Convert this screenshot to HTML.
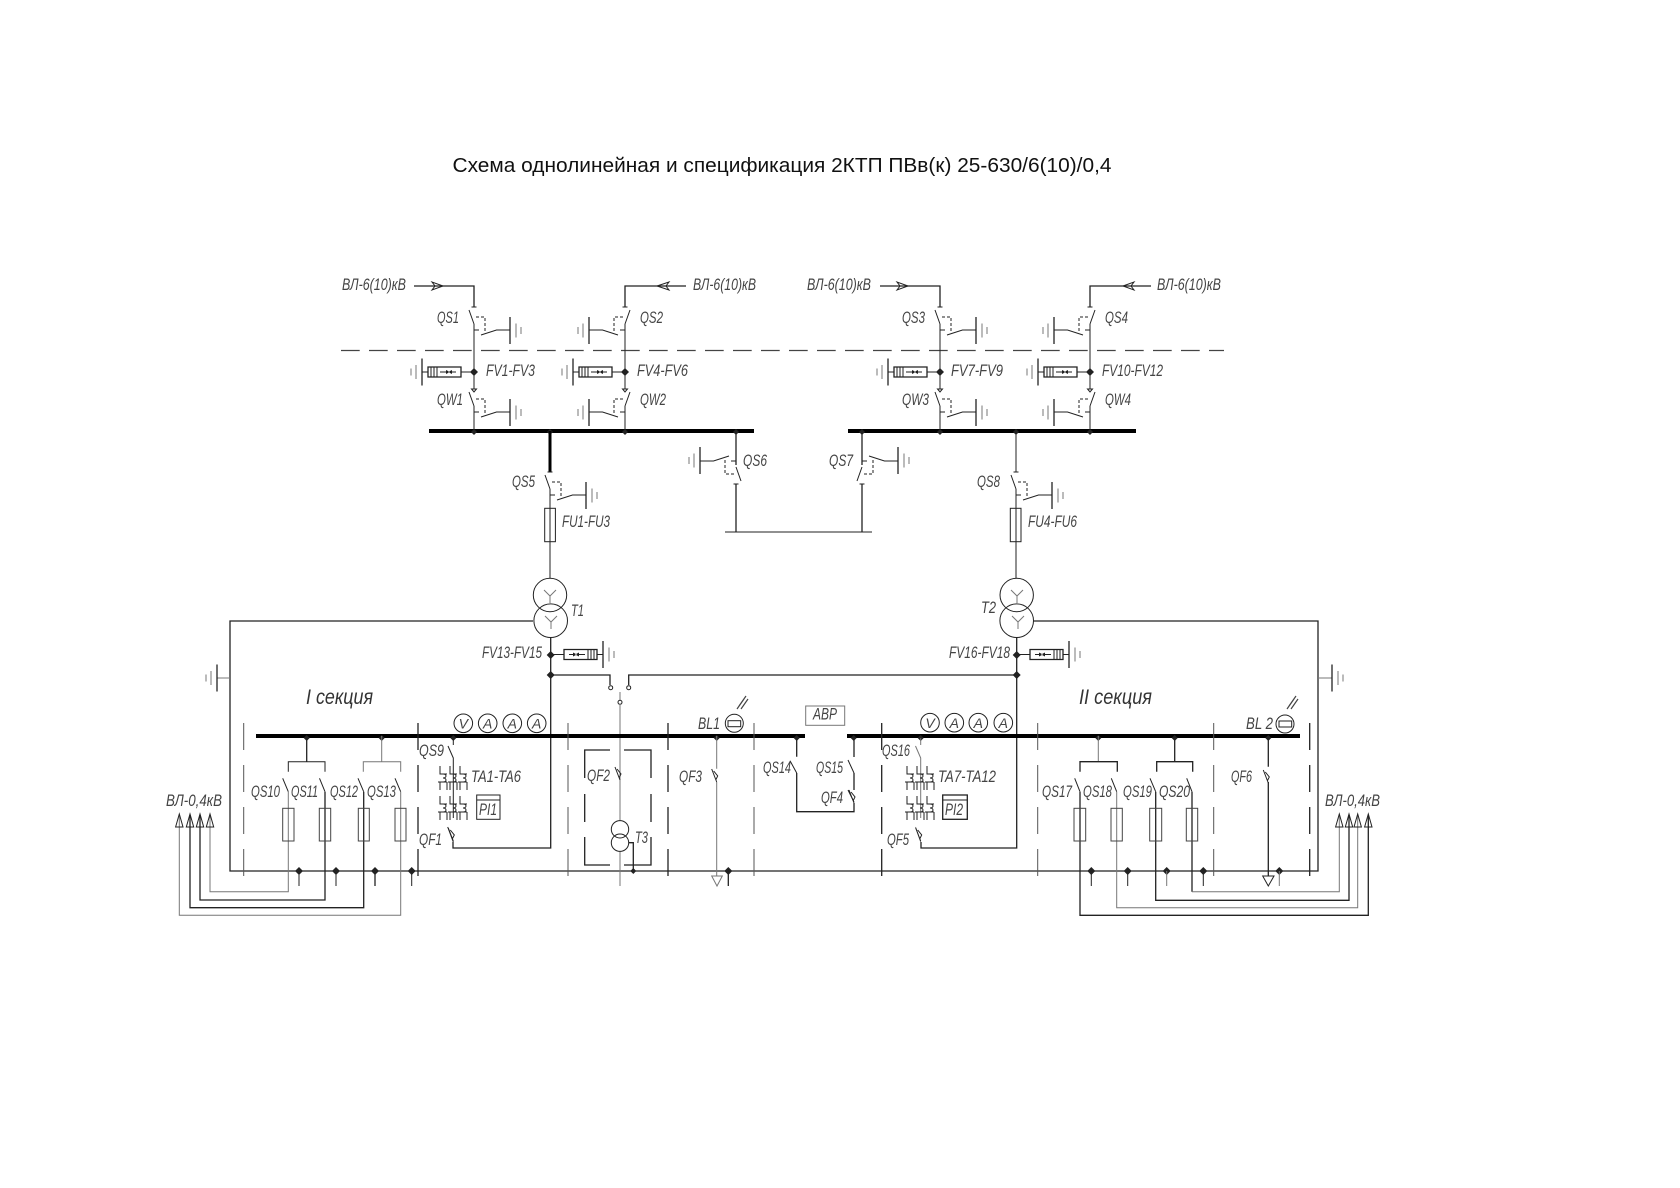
<!DOCTYPE html>
<html><head><meta charset="utf-8"><title>Схема однолинейная</title>
<style>
html,body{margin:0;padding:0;background:#fff}
svg{display:block}
.l{font-family:"Liberation Sans","DejaVu Sans",sans-serif;font-style:italic;font-size:17px;fill:#444}
.t{font-family:"Liberation Sans","DejaVu Sans",sans-serif;font-size:20.5px;fill:#111}
.s{font-family:"Liberation Sans","DejaVu Sans",sans-serif;font-style:italic;font-size:21px;fill:#333}
.m{font-family:"Liberation Sans","DejaVu Sans",sans-serif;font-style:italic;font-size:14px;fill:#444;text-anchor:middle}
.w{fill:none;stroke:#222;stroke-width:1}
.g{fill:none;stroke:#777;stroke-width:1}
.k{fill:none;stroke:#222;stroke-width:1.3}
.f{fill:none;stroke:#444;stroke-width:1}
.b{fill:none;stroke:#000;stroke-width:4}
.d{fill:none;stroke:#555;stroke-width:1;stroke-dasharray:27 15}
.dk{fill:none;stroke:#222;stroke-width:1.3;stroke-dasharray:27 15}
.n{fill:#222}
</style></head><body>
<svg xmlns="http://www.w3.org/2000/svg" width="1680" height="1188" viewBox="0 0 1680 1188">
<defs>
<g id="gnd"><path class="k" d="M0,-13.5V13.5"/><path class="g" d="M6,-7V7M11,-3.5V3.5"/></g>
<g id="qs">
<path class="w" d="M-2.5,0H2.5M-5,3L0,17M0,23H5M7,28L22.5,23H36"/>
<path class="w" d="M2,10H11V25" stroke-dasharray="3 2"/>
<use href="#gnd" x="36" y="23.5"/>
</g>
<g id="fv">
<path class="k" d="M-46,-5H-13V5H-46Z"/>
<path class="w" d="M-43,-5V5M-40,-5V5M-37,-5V5M-13,0H0M-46,0H-52M-34,0H-28M-18,0H-22"/>
<path class="n" d="M-28,-2L-24,0L-28,2ZM-22,-2L-26,0L-22,2Z"/>
<use href="#gnd" transform="translate(-52,0) scale(-1,1)"/>
</g>
<path id="node" class="n" d="M0,-3L3,0L0,3L-3,0Z"/>
<path id="bnode" class="n" d="M0,-4L4,0L0,4L-4,0Z"/>
<path id="tri" class="w" d="M-2.5,0H2.5L0,3Z"/>
<g id="ta">
<path class="w" d="M2,0V8H9M5,8C9,8 9,12 5,12C9,12 9,16 5,16M0,16H9M2,16V24M9,16V24"/>
</g>
<g id="tas">
<use href="#ta" x="0" y="0"/><use href="#ta" x="10" y="0"/><use href="#ta" x="20" y="0"/>
<use href="#ta" x="0" y="30"/><use href="#ta" x="10" y="30"/><use href="#ta" x="20" y="30"/>
</g>
<path id="qf" class="w" d="M-5,0L0,13M-3,2L1,7L-1,11"/>
<path id="bl" fill="none" stroke="#444" stroke-width="1.2" d="M0,0L7,-10M4,0L11,-10M2,-3L9,-13"/>
<g id="ar"><path class="w" d="M0,0L-3.7,13H3.7Z"/></g>
</defs>

<text class="t" x="452.5" y="172" textLength="659" lengthAdjust="spacingAndGlyphs">Схема однолинейная и спецификация 2КТП ПВв(к) 25-630/6(10)/0,4</text>

<!-- top dashed -->
<path fill="none" stroke="#444" stroke-width="1.2" stroke-dasharray="18.7 9.3" d="M341,350.5H1224"/>

<!-- incoming lines -->
<path class="k" d="M414,286H474V307M686,286H625V307M880,286H940V307M1151,286H1090V307"/>
<path class="w" d="M443,286L432,282L435,286L432,290L443,286Z"/>
<path class="w" d="M657,286L669,282L666,286L669,290L657,286Z"/>
<path class="w" d="M908,286L897,282L900,286L897,290L908,286Z"/>
<path class="w" d="M1123,286L1134,282L1131,286L1134,290L1123,286Z"/>

<!-- verticals -->
<path class="w" d="M474,324V389M474,406V431M625,324V389M625,406V431M940,324V389M940,406V431M1090,324V389M1090,406V431"/>
<use href="#qs" transform="translate(474,307)"/>
<use href="#qs" transform="translate(625,307) scale(-1,1)"/>
<use href="#qs" transform="translate(940,307)"/>
<use href="#qs" transform="translate(1090,307) scale(-1,1)"/>
<use href="#qs" transform="translate(474,389)"/>
<use href="#qs" transform="translate(625,389) scale(-1,1)"/>
<use href="#qs" transform="translate(940,389)"/>
<use href="#qs" transform="translate(1090,389) scale(-1,1)"/>
<use href="#tri" x="474" y="389"/><use href="#tri" x="625" y="389"/><use href="#tri" x="940" y="389"/><use href="#tri" x="1090" y="389"/>
<use href="#fv" transform="translate(474,372)"/>
<use href="#fv" transform="translate(625,372)"/>
<use href="#fv" transform="translate(940,372)"/>
<use href="#fv" transform="translate(1090,372)"/>
<use href="#bnode" x="474" y="372"/><use href="#bnode" x="625" y="372"/><use href="#bnode" x="940" y="372"/><use href="#bnode" x="1090" y="372"/>

<!-- HV buses -->
<path class="b" d="M429,431H754M848,431H1136"/>
<use href="#node" x="474" y="432"/><use href="#node" x="550" y="432"/><use href="#node" x="625" y="432"/><use href="#node" x="736" y="432"/>
<use href="#node" x="862" y="432"/><use href="#node" x="940" y="432"/><use href="#node" x="1016" y="432"/><use href="#node" x="1090" y="432"/>

<!-- QS5 QS8 FU -->
<path fill="none" stroke="#000" stroke-width="3" d="M550,431V472"/>
<path class="w" d="M1016,431V472M550,489V578M1016,489V578"/>
<use href="#qs" transform="translate(550,472)"/>
<use href="#qs" transform="translate(1016,472)"/>
<rect class="w" x="544.7" y="508.3" width="10.7" height="33.4"/>
<rect class="w" x="1010.3" y="508.3" width="10.7" height="33.4"/>

<!-- QS6 QS7 -->
<path class="k" d="M736,431V465M736,484V532M862,431V465M862,484V532"/>
<path class="w" d="M725,532H872"/>
<use href="#qs" transform="translate(736,484) scale(-1,-1)"/>
<use href="#qs" transform="translate(862,484) scale(1,-1)"/>

<!-- transformers -->
<circle class="w" cx="550" cy="595" r="16.7"/><circle class="w" cx="550.7" cy="620.7" r="16.8"/>
<circle class="w" cx="1016.7" cy="595" r="16.7"/><circle class="w" cx="1016.7" cy="620.7" r="16.8"/>
<path class="g" d="M544,590L550,596L556,590M550,596V603M545,616L551,622L557,616M551,622V629M1011,590L1017,596L1023,590M1017,596V603M1012,616L1018,622L1024,616M1018,622V629"/>

<!-- frame -->
<path class="k" d="M533,621H230V871H1318V621H1033"/>
<path class="g" d="M230,678H217M1318,678H1332"/>
<use href="#gnd" transform="translate(217,678) scale(-1,1)"/>
<use href="#gnd" x="1332" y="678"/>

<!-- T1/T2 down -->
<path class="k" d="M550.7,637.5V848H453V842M1016.7,637.5V848H921V842"/>
<use href="#bnode" x="550.7" y="655"/><use href="#bnode" x="550.7" y="675"/>
<use href="#bnode" x="1016.7" y="655"/><use href="#bnode" x="1016.7" y="675"/>
<use href="#fv" transform="translate(551,654.5) scale(-1,1)"/>
<use href="#fv" transform="translate(1017,654.5) scale(-1,1)"/>

<!-- ATS switch -->
<path class="k" d="M551,675H610V685M628.7,685V675H1017"/>
<circle class="w" cx="610.7" cy="687.7" r="2"/><circle class="w" cx="628.7" cy="687.7" r="2"/><circle class="w" cx="620" cy="702.3" r="2"/>
<path class="g" d="M620,692V700M620,704V820.5M620,851.5V886"/>

<!-- LV buses -->
<path class="b" d="M256,736H805M847,736H1300"/>

<!-- vertical section dashes -->
<path class="d" d="M243.7,723V879M568,723V879M754,723V879M1037.7,723V879M1213.7,723V879"/>
<path class="dk" d="M418,723V879M668,723V879M881.7,723V879M1309.7,723V879"/>

<!-- T3 box -->
<path class="k" d="M610,750H584.7V778M584.7,794V822M584.7,837V865H610M624,750H651V778M651,794V822M651,837V865H624"/>
<circle class="w" cx="620" cy="829.3" r="8.7"/><circle class="w" cx="620" cy="842.7" r="8.7"/>
<path class="k" d="M628.7,842.7H633.3V871"/>
<use href="#node" x="633.3" y="871"/>
<use href="#qf" x="620" y="767"/>

<!-- QS9/QF1 -->
<use href="#node" x="453.3" y="738"/>
<path class="w" d="M453.3,738V745M448,746L453.3,758V818M447.7,827L453.3,842"/>
<use href="#tas" x="438" y="766"/>
<use href="#qf" x="453.3" y="828"/>
<rect class="w" x="476.7" y="795" width="23.3" height="24.3"/>
<path class="w" d="M476.7,800H500"/>
<!-- QS16/QF5 -->
<use href="#node" x="920.7" y="738"/>
<path class="g" d="M920.7,738V745M915.5,746L920.7,758V818M915.5,827L920.7,842"/>
<use href="#tas" x="905" y="766"/>
<use href="#qf" x="920.7" y="828"/>
<rect class="k" x="942.7" y="795" width="24.6" height="24.3"/>
<path class="w" d="M942.7,800H967.3"/>

<!-- meters -->
<circle class="w" cx="463.3" cy="723.3" r="9.3"/><circle class="w" cx="487.7" cy="723.3" r="9.3"/><circle class="w" cx="512.3" cy="723.3" r="9.3"/><circle class="w" cx="536.7" cy="723.3" r="9.3"/>
<circle class="w" cx="930" cy="722.7" r="9.3"/><circle class="w" cx="954.3" cy="722.7" r="9.3"/><circle class="w" cx="978.3" cy="722.7" r="9.3"/><circle class="w" cx="1003.3" cy="722.7" r="9.3"/>
<text class="m" x="463.3" y="728.5">V</text><text class="m" x="487.7" y="728.5">A</text><text class="m" x="512.3" y="728.5">A</text><text class="m" x="536.7" y="728.5">A</text>
<text class="m" x="930" y="728">V</text><text class="m" x="954.3" y="728">A</text><text class="m" x="978.3" y="728">A</text><text class="m" x="1003.3" y="728">A</text>

<!-- left feeders -->
<use href="#node" x="306.7" y="738"/><use href="#node" x="381.7" y="738"/>
<path class="k" d="M306.7,736V761.7"/><path class="g" d="M381.7,736V761.7"/>
<path class="w" d="M288.3,771.7V761.7H325V771.7"/><path class="g" d="M363.3,771.7V761.7H400.7V771.7"/>
<path class="w" d="M282.7,778.3L288.3,791.7M319.5,778.3L325,791.7M358,778.3L363.7,791.7M395,778.3L400.7,791.7"/>
<path class="g" d="M288.3,791.7V891.7H210V815M400.7,791.7V915.3H179.3V815"/>
<path class="k" d="M325,791.7V900H200V815M363.7,791.7V907.7H190V815"/>
<rect class="f" x="282.7" y="808.3" width="11.3" height="32.7"/><rect class="f" x="319.3" y="808.3" width="11.4" height="32.7"/><rect class="f" x="358.3" y="808.3" width="11" height="32.7"/><rect class="f" x="395" y="808.3" width="11" height="32.7"/>
<use href="#ar" x="179.3" y="814"/><use href="#ar" x="190" y="814"/><use href="#ar" x="200" y="814"/><use href="#ar" x="210" y="814"/>
<use href="#bnode" x="299" y="871"/><use href="#bnode" x="336" y="871"/><use href="#bnode" x="375" y="871"/><use href="#bnode" x="411.7" y="871"/>
<path class="w" d="M299,871V886M336,871V886M411.7,871V886"/><path class="k" d="M375,871V886"/>

<!-- QF3 / BL1 -->
<use href="#node" x="716.7" y="738"/>
<path class="g" d="M716.7,736V768.7M716.7,782V876"/>
<use href="#qf" x="716.7" y="769"/>
<path class="g" d="M711.7,876H722.3L717,886Z"/>
<use href="#bnode" x="728.3" y="871"/><path class="k" d="M728.3,871V886"/>
<circle class="w" cx="734.3" cy="723.3" r="9"/><rect class="w" x="728" y="720.7" width="12.7" height="6"/>
<use href="#bl" x="737" y="709"/>

<!-- QS14 QS15 QF4 -->
<use href="#node" x="796.7" y="738"/><use href="#node" x="853.7" y="738"/>
<path class="k" d="M796.7,736V756.7M796.7,773V811.7H854V803M854,773V790M854,736V757"/>
<path class="w" d="M790,760.7L796.7,773M848,760L854,773M848,790L854,802"/>
<use href="#qf" x="854" y="790"/>
<rect class="g" x="805.7" y="706" width="39" height="19.3"/>

<!-- right feeders -->
<use href="#node" x="1098.3" y="738"/><use href="#node" x="1174.7" y="738"/>
<path class="g" d="M1098.3,736V761.7"/><path class="k" d="M1174.7,736V761.7"/>
<path class="k" d="M1080,771.7V761.7H1117.3V771.7M1156.7,771.7V761.7H1192.7V771.7"/>
<path class="w" d="M1074.7,778.3L1080,791.7M1111.3,778.3L1116.7,791.7M1150,778.3L1155.7,791.7M1186.7,778.3L1192,791.7"/>
<path class="k" d="M1080,791.7V915.3H1368.3V815M1155.7,791.7V900.3H1349V815M1192,791.7V891.7"/>
<path class="g" d="M1192,891.7H1339.3V815M1116.7,791.7V907.7H1357.7V815"/>
<rect class="f" x="1074" y="808.3" width="11.7" height="32.7"/><rect class="f" x="1111" y="808.3" width="11.3" height="32.7"/><rect class="f" x="1149.7" y="808.3" width="12" height="32.7"/><rect class="f" x="1186.3" y="808.3" width="11.4" height="32.7"/>
<use href="#ar" x="1339.3" y="814"/><use href="#ar" x="1349" y="814"/><use href="#ar" x="1357.7" y="814"/><use href="#ar" x="1368.3" y="814"/>
<use href="#bnode" x="1091.3" y="871"/><use href="#bnode" x="1127.7" y="871"/><use href="#bnode" x="1166.7" y="871"/><use href="#bnode" x="1203.3" y="871"/><use href="#bnode" x="1279.3" y="871"/>
<path class="w" d="M1091.3,871V886M1127.7,871V886M1203.3,871V886"/><path class="g" d="M1166.7,871V886M1279.3,871V886"/>

<!-- QF6 / BL2 -->
<use href="#node" x="1268.3" y="738"/>
<path class="k" d="M1268.3,736V766.7M1268.3,782V876"/>
<use href="#qf" x="1268.3" y="770"/>
<path class="w" d="M1262.7,876H1274L1268.3,886Z"/>
<circle class="w" cx="1285" cy="724" r="9"/><rect class="w" x="1279" y="721" width="12.7" height="6"/>
<use href="#bl" x="1287" y="709"/>

<!-- labels -->
<text class="l" x="342" y="290" textLength="64" lengthAdjust="spacingAndGlyphs">ВЛ-6(10)кВ</text>
<text class="l" x="693" y="290" textLength="63" lengthAdjust="spacingAndGlyphs">ВЛ-6(10)кВ</text>
<text class="l" x="807" y="290" textLength="64" lengthAdjust="spacingAndGlyphs">ВЛ-6(10)кВ</text>
<text class="l" x="1157" y="290" textLength="64" lengthAdjust="spacingAndGlyphs">ВЛ-6(10)кВ</text>
<text class="l" x="437" y="323" textLength="22" lengthAdjust="spacingAndGlyphs">QS1</text>
<text class="l" x="640" y="323" textLength="23" lengthAdjust="spacingAndGlyphs">QS2</text>
<text class="l" x="902" y="323" textLength="23" lengthAdjust="spacingAndGlyphs">QS3</text>
<text class="l" x="1105" y="323" textLength="23" lengthAdjust="spacingAndGlyphs">QS4</text>
<text class="l" x="486" y="376" textLength="49" lengthAdjust="spacingAndGlyphs">FV1-FV3</text>
<text class="l" x="637" y="376" textLength="51" lengthAdjust="spacingAndGlyphs">FV4-FV6</text>
<text class="l" x="951" y="376" textLength="52" lengthAdjust="spacingAndGlyphs">FV7-FV9</text>
<text class="l" x="1102" y="376" textLength="61" lengthAdjust="spacingAndGlyphs">FV10-FV12</text>
<text class="l" x="437" y="405" textLength="26" lengthAdjust="spacingAndGlyphs">QW1</text>
<text class="l" x="640" y="405" textLength="26" lengthAdjust="spacingAndGlyphs">QW2</text>
<text class="l" x="902" y="405" textLength="27" lengthAdjust="spacingAndGlyphs">QW3</text>
<text class="l" x="1105" y="405" textLength="26" lengthAdjust="spacingAndGlyphs">QW4</text>
<text class="l" x="512" y="487" textLength="23" lengthAdjust="spacingAndGlyphs">QS5</text>
<text class="l" x="977" y="487" textLength="23" lengthAdjust="spacingAndGlyphs">QS8</text>
<text class="l" x="743" y="466" textLength="24" lengthAdjust="spacingAndGlyphs">QS6</text>
<text class="l" x="829" y="466" textLength="24" lengthAdjust="spacingAndGlyphs">QS7</text>
<text class="l" x="562" y="527" textLength="48" lengthAdjust="spacingAndGlyphs">FU1-FU3</text>
<text class="l" x="1028" y="527" textLength="49" lengthAdjust="spacingAndGlyphs">FU4-FU6</text>
<text class="l" x="571" y="616" textLength="13" lengthAdjust="spacingAndGlyphs">T1</text>
<text class="l" x="981" y="613" textLength="15" lengthAdjust="spacingAndGlyphs">T2</text>
<text class="l" x="482" y="658" textLength="60" lengthAdjust="spacingAndGlyphs">FV13-FV15</text>
<text class="l" x="949" y="658" textLength="61" lengthAdjust="spacingAndGlyphs">FV16-FV18</text>
<text class="s" x="306" y="704" textLength="67" lengthAdjust="spacingAndGlyphs">I секция</text>
<text class="s" x="1079" y="704" textLength="73" lengthAdjust="spacingAndGlyphs">II секция</text>
<text class="l" x="419" y="756" textLength="25" lengthAdjust="spacingAndGlyphs">QS9</text>
<text class="l" x="882" y="756" textLength="28" lengthAdjust="spacingAndGlyphs">QS16</text>
<text class="l" x="471" y="782" textLength="50" lengthAdjust="spacingAndGlyphs">TA1-TA6</text>
<text class="l" x="938" y="782" textLength="58" lengthAdjust="spacingAndGlyphs">TA7-TA12</text>
<text class="l" x="251" y="797" textLength="29" lengthAdjust="spacingAndGlyphs">QS10</text>
<text class="l" x="291" y="797" textLength="27" lengthAdjust="spacingAndGlyphs">QS11</text>
<text class="l" x="330" y="797" textLength="28" lengthAdjust="spacingAndGlyphs">QS12</text>
<text class="l" x="367" y="797" textLength="29" lengthAdjust="spacingAndGlyphs">QS13</text>
<text class="l" x="1042" y="797" textLength="30" lengthAdjust="spacingAndGlyphs">QS17</text>
<text class="l" x="1083" y="797" textLength="29" lengthAdjust="spacingAndGlyphs">QS18</text>
<text class="l" x="1123" y="797" textLength="29" lengthAdjust="spacingAndGlyphs">QS19</text>
<text class="l" x="1159" y="797" textLength="31" lengthAdjust="spacingAndGlyphs">QS20</text>
<text class="l" x="166" y="806" textLength="56" lengthAdjust="spacingAndGlyphs">ВЛ-0,4кВ</text>
<text class="l" x="1325" y="806" textLength="55" lengthAdjust="spacingAndGlyphs">ВЛ-0,4кВ</text>
<text class="l" x="419" y="845" textLength="23" lengthAdjust="spacingAndGlyphs">QF1</text>
<text class="l" x="887" y="845" textLength="22" lengthAdjust="spacingAndGlyphs">QF5</text>
<text class="l" x="479" y="815" textLength="18" lengthAdjust="spacingAndGlyphs">PI1</text>
<text class="l" x="945" y="815" textLength="18" lengthAdjust="spacingAndGlyphs">PI2</text>
<text class="l" x="587" y="781" textLength="23" lengthAdjust="spacingAndGlyphs">QF2</text>
<text class="l" x="635" y="843" textLength="13" lengthAdjust="spacingAndGlyphs">T3</text>
<text class="l" x="698" y="729" textLength="22" lengthAdjust="spacingAndGlyphs">BL1</text>
<text class="l" x="1246" y="729" textLength="27" lengthAdjust="spacingAndGlyphs">BL 2</text>
<text class="l" x="813" y="719.5" textLength="24" lengthAdjust="spacingAndGlyphs">АВР</text>
<text class="l" x="679" y="782" textLength="23" lengthAdjust="spacingAndGlyphs">QF3</text>
<text class="l" x="1231" y="782" textLength="21" lengthAdjust="spacingAndGlyphs">QF6</text>
<text class="l" x="763" y="773" textLength="28" lengthAdjust="spacingAndGlyphs">QS14</text>
<text class="l" x="816" y="773" textLength="27" lengthAdjust="spacingAndGlyphs">QS15</text>
<text class="l" x="821" y="803" textLength="22" lengthAdjust="spacingAndGlyphs">QF4</text>
</svg>
</body></html>
